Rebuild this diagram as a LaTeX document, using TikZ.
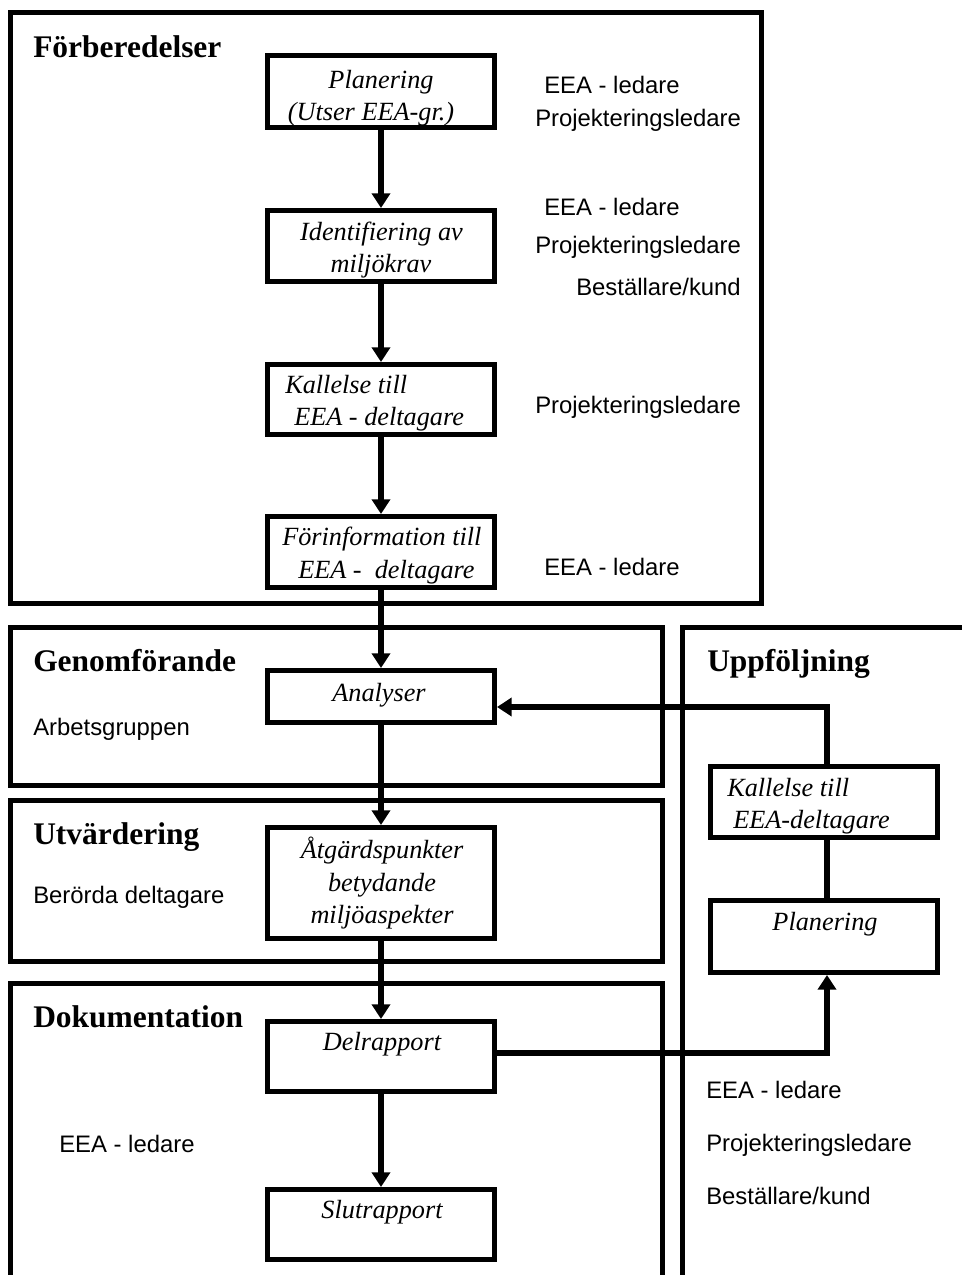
\documentclass[tikz,border=0pt]{standalone}
\usepackage{fontspec}
\setmainfont{Liberation Serif}
\newfontfamily\sansf{Liberation Sans}
\usetikzlibrary{arrows.meta}
\begin{document}
\begin{tikzpicture}[x=0.75pt,y=-0.75pt,
  frame/.style={line width=3.75pt, line join=miter},
  box/.style={draw, line width=3.75pt, rectangle, minimum width=170.25pt, inner sep=0pt},
  it/.style={font=\fontsize{19.7}{23}\selectfont\itshape, inner sep=0pt},
  hd/.style={font=\fontsize{23.6}{28}\selectfont\bfseries, inner sep=0pt, anchor=base west},
  lab/.style={font=\sansf\fontsize{17.9}{21}\selectfont, inner sep=0pt, anchor=base west},
  arr/.style={line width=4.5pt, -{Triangle[length=11pt,width=13.5pt]}},
  conn/.style={line width=4.5pt}]
\useasboundingbox (0,0) rectangle (962,1275);

% section frames
\draw[frame] (10.5,12.5) rectangle (761,603);
\draw[frame] (10.5,627) rectangle (662,785);
\draw[frame] (10.5,800) rectangle (662,961.5);
\draw[frame] (10.5,1285) -- (10.5,983) -- (662,983) -- (662,1285);
\draw[frame] (970,627) -- (682.5,627) -- (682.5,1285);

% headings
\node[hd] (hforb) at (33,57) {Förberedelser};
\node[hd] (hgen) at (33,671) {Genomförande};
\node[hd] (hutv) at (33,844) {Utvärdering};
\node[hd] (hdok) at (33,1027) {Dokumentation};
\node[hd] (hupp) at (707,671) {Uppföljning};

% boxes
\node[box, minimum height=54pt] (plan) at (381,91.5) {};
\node[box, minimum height=53.25pt] (ident) at (381,246) {};
\node[box, minimum height=52.5pt] (kal) at (381,399.5) {};
\node[box, minimum height=53.25pt] (forinf) at (381,552) {};
\node[box, minimum height=39pt] (ana) at (381,696.5) {};
\node[box, minimum height=83.25pt] (atg) at (381,883) {};
\node[box, minimum height=52.5pt] (del) at (381,1056.5) {};
\node[box, minimum height=52.5pt] (slut) at (381,1224.5) {};
\node[box, minimum height=53.25pt] (kal2) at (824,802) {};
\node[box, minimum height=54pt] (plan2) at (824,936.5) {};

% box texts
\node[it, anchor=base] (tplan1) at (381,88) {Planering};
\node[it, anchor=base] (tplan2) at (371,120) {(Utser EEA-gr.)};
\node[it, anchor=base] (tid1) at (381.5,240) {Identifiering av};
\node[it, anchor=base] (tid2) at (381,272) {miljökrav};
\node[it, anchor=base west] (tkal1) at (285,393) {Kallelse till};
\node[it, anchor=base west] (tkal2) at (294,425) {EEA - deltagare};
\node[it, anchor=base west] (tfi1) at (282,545) {Förinformation till};
\node[it, anchor=base west] (tfi2) at (298,578) {EEA -\enspace deltagare};
\node[it, anchor=base] (tana) at (379,701) {Analyser};
\node[it, anchor=base] (tatg1) at (382,858) {Åtgärdspunkter};
\node[it, anchor=base] (tatg2) at (382,891) {betydande};
\node[it, anchor=base] (tatg3) at (382,923) {miljöaspekter};
\node[it, anchor=base] (tdel) at (382,1050) {Delrapport};
\node[it, anchor=base] (tslut) at (382,1218) {Slutrapport};
\node[it, anchor=base west] (tk21) at (727,796) {Kallelse till};
\node[it, anchor=base west] (tk22) at (733,828) {EEA-deltagare};
\node[it, anchor=base] (tpl2) at (825,930) {Planering};

% role labels
\node[lab] (l1) at (544,93) {EEA - ledare};
\node[lab] (l2) at (535,126) {Projekteringsledare};
\node[lab] (l3) at (544,215) {EEA - ledare};
\node[lab] (l4) at (535,253) {Projekteringsledare};
\node[lab] (l5) at (576,295) {Beställare/kund};
\node[lab] (l6) at (535,413) {Projekteringsledare};
\node[lab] (l7) at (544,575) {EEA - ledare};
\node[lab] (l8) at (33,735) {Arbetsgruppen};
\node[lab] (l9) at (33,903) {Berörda deltagare};
\node[lab] (l10) at (59,1152) {EEA - ledare};
\node[lab] (l11) at (706,1098) {EEA - ledare};
\node[lab] (l12) at (706,1151) {Projekteringsledare};
\node[lab] (l13) at (706,1204) {Beställare/kund};

% connectors
\draw[arr] (plan) -- (ident);
\draw[arr] (ident) -- (kal);
\draw[arr] (kal) -- (forinf);
\draw[arr] (forinf) -- (ana);
\draw[arr] (ana) -- (atg);
\draw[arr] (atg) -- (del);
\draw[arr] (del) -- (slut);

\coordinate (fb) at (827,707);
\coordinate (fd) at (827,1053);
\draw[arr] (kal2.north -| fb) -- (fb) -- (ana.east |- fb);
\draw[conn] (plan2.north -| fb) -- (kal2.south -| fb);
\draw[arr] (del.east |- fd) -- (fd) -- (plan2.south -| fd);
\end{tikzpicture}
\end{document}
